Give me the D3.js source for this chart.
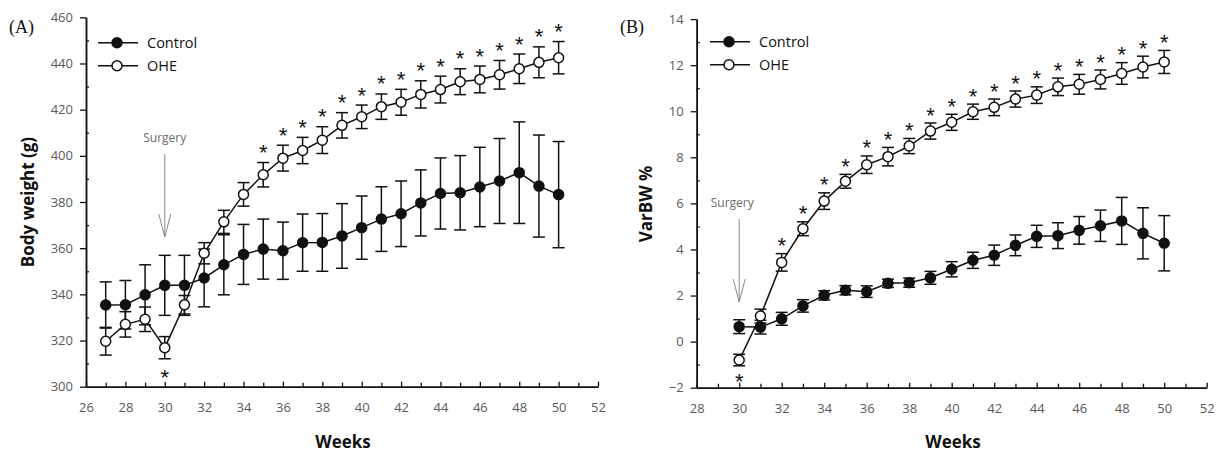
<!DOCTYPE html>
<html>
<head>
<meta charset="utf-8">
<script src="https://cdn.jsdelivr.net/npm/d3@7"></script>
<style>
  html, body { margin: 0; padding: 0; background: #fff; }
  svg { display: block; }
  .tick text { font-family: "Open Sans", sans-serif; font-size: 13px; fill: #595959; }
</style>
</head>
<body>
<svg id="chart" width="1217" height="453"></svg>
<script>
// ---- Panel A: body weight (g) ----
const weeksA = [27, 28, 29, 30, 31, 32, 33, 34, 35, 36, 37, 38, 39, 40, 41, 42, 43, 44, 45, 46, 47, 48, 49, 50];
const controlA = [335.4, 335.5, 339.8, 343.9, 343.9, 347.1, 352.8, 357.3, 359.6, 358.9, 362.4, 362.5, 365.3, 368.9, 372.6, 374.9, 379.6, 383.7, 384.0, 386.5, 389.1, 392.7, 386.9, 383.2];
const controlAErr = [10, 10.5, 13, 13, 13, 12.5, 13, 13, 13, 12.4, 12.4, 12.5, 14, 13.7, 14, 14.2, 14.3, 15.4, 16.1, 17.2, 18.4, 22, 22.1, 23];
const oheA = [319.7, 327.0, 329.2, 316.9, 335.5, 357.8, 371.4, 383.3, 391.8, 399.0, 402.3, 406.8, 413.2, 416.9, 421.3, 423.2, 426.6, 428.7, 432.1, 433.1, 435.1, 437.7, 440.5, 442.5];
const oheAErr = [6, 5.5, 5.3, 4.8, 4, 4.6, 5, 5.1, 5.3, 5.6, 5.7, 5.8, 5.5, 5.1, 5.5, 5.6, 5.9, 5.8, 5.6, 5.8, 6.2, 6.4, 6.7, 7];
const starsAboveA = [35, 36, 37, 38, 39, 40, 41, 42, 43, 44, 45, 46, 47, 48, 49, 50];
const starsBelowA = [30];
const xTicksA = [26, 28, 30, 32, 34, 36, 38, 40, 42, 44, 46, 48, 50, 52];
const yTicksA = [300, 320, 340, 360, 380, 400, 420, 440, 460];

// ---- Panel B: VarBW % ----
const weeksB = [30, 31, 32, 33, 34, 35, 36, 37, 38, 39, 40, 41, 42, 43, 44, 45, 46, 47, 48, 49, 50];
const controlB = [0.65, 0.63, 0.99, 1.55, 2.01, 2.23, 2.17, 2.53, 2.56, 2.77, 3.14, 3.53, 3.75, 4.18, 4.57, 4.60, 4.83, 5.03, 5.24, 4.70, 4.27];
const controlBErr = [0.3, 0.3, 0.28, 0.27, 0.2, 0.2, 0.25, 0.18, 0.2, 0.28, 0.33, 0.35, 0.44, 0.45, 0.48, 0.56, 0.6, 0.68, 1.02, 1.11, 1.2];
const oheB = [-0.80, 1.11, 3.44, 4.90, 6.10, 6.96, 7.68, 8.03, 8.49, 9.14, 9.52, 9.98, 10.17, 10.53, 10.70, 11.06, 11.17, 11.38, 11.64, 11.92, 12.14];
const oheBErr = [0.25, 0.3, 0.38, 0.3, 0.36, 0.3, 0.38, 0.4, 0.33, 0.35, 0.35, 0.33, 0.36, 0.35, 0.36, 0.38, 0.43, 0.41, 0.47, 0.47, 0.5];
const starsAboveB = [32, 33, 34, 35, 36, 37, 38, 39, 40, 41, 42, 43, 44, 45, 46, 47, 48, 49, 50];
const starsBelowB = [30];
const xTicksB = [28, 30, 32, 34, 36, 38, 40, 42, 44, 46, 48, 50, 52];
const yTicksB = [-2, 0, 2, 4, 6, 8, 10, 12, 14];

const seriesNames = ["Control", "OHE"];
const surgeryWeek = 30;

const svg = d3.select("#chart");
const INK = "#111";

function drawPanel(cfg) {
  const g = svg.append("g");
  const x = d3.scaleLinear().domain(cfg.xDomain).range(cfg.xRange);
  const y = d3.scaleLinear().domain(cfg.yDomain).range(cfg.yRange);
  const y0 = cfg.yRange[0];
  const x0 = cfg.xRange[0];

  // x axis: major ticks pointing up, labelled every 2 weeks
  const xAxis = g.append("g").attr("transform", `translate(0,${y0})`)
    .call(d3.axisBottom(x).tickValues(cfg.xTicks).tickSizeInner(-5).tickSizeOuter(0).tickPadding(16).tickFormat(d3.format("d")));
  const minorX = d3.range(cfg.xDomain[0] + 1, cfg.xDomain[1], 2);
  const xMinor = g.append("g").attr("transform", `translate(0,${y0})`)
    .call(d3.axisBottom(x).tickValues(minorX).tickSizeInner(-4).tickSizeOuter(0).tickFormat(""));

  // y axis: major ticks outside, minor ticks inside
  const yAxis = g.append("g").attr("transform", `translate(${x0},0)`)
    .call(d3.axisLeft(y).tickValues(cfg.yTicks).tickSizeInner(6).tickSizeOuter(0).tickPadding(7).tickFormat(d3.format("d")));
  const minorY = cfg.yTicks.slice(0, -1).map((v, i) => (v + cfg.yTicks[i + 1]) / 2);
  const yMinor = g.append("g").attr("transform", `translate(${x0},0)`)
    .call(d3.axisRight(y).tickValues(minorY).tickSizeInner(3).tickSizeOuter(0).tickFormat(""));

  [xAxis, xMinor, yAxis, yMinor].forEach(a => {
    a.selectAll("path.domain").attr("stroke", INK).attr("stroke-width", 1.5);
    a.selectAll(".tick line").attr("stroke", INK).attr("stroke-width", 1.3);
  });

  // axis titles
  g.append("text")
    .attr("transform", `translate(${cfg.yTitleX},${cfg.yTitleY}) rotate(-90)`)
    .attr("text-anchor", "middle")
    .attr("dominant-baseline", "middle")
    .style("font-family", "'Open Sans', sans-serif").style("font-weight", "bold").style("font-size", "17px")
    .attr("fill", INK)
    .text(cfg.yTitle);
  g.append("text")
    .attr("x", cfg.xTitleX).attr("y", 448)
    .attr("text-anchor", "middle")
    .style("font-family", "'Open Sans', sans-serif").style("font-weight", "bold").style("font-size", "17px")
    .attr("fill", INK)
    .text("Weeks");

  // panel letter
  g.append("text")
    .attr("x", cfg.letterX).attr("y", 33)
    .style("font-family", "'Liberation Serif', 'Times New Roman', serif").style("font-size", "18px")
    .attr("fill", INK)
    .text(cfg.letter);

  // surgery marker
  const sx = x(surgeryWeek);
  const arrow = g.append("g").attr("stroke", "#8a8a8a").attr("stroke-width", 1).attr("fill", "none");
  arrow.append("line").attr("x1", sx).attr("x2", sx).attr("y1", cfg.arrowTop).attr("y2", cfg.arrowTip);
  arrow.append("path").attr("d", `M${sx - 6},${cfg.arrowTip - 23} L${sx},${cfg.arrowTip} L${sx + 6},${cfg.arrowTip - 23}`);
  g.append("text")
    .attr("x", sx + cfg.surgeryDx).attr("y", cfg.arrowTop - 12)
    .attr("text-anchor", "middle")
    .style("font-family", "'Open Sans', sans-serif").style("font-size", "12px")
    .attr("fill", "#6b6b6b")
    .text("Surgery");

  const series = [
    { name: seriesNames[0], v: cfg.control, e: cfg.controlErr, fill: INK },
    { name: seriesNames[1], v: cfg.ohe, e: cfg.oheErr, fill: "#fff" }
  ];

  // error bars
  series.forEach(s => {
    const eb = g.append("g").attr("stroke", INK).attr("stroke-width", 1.5);
    cfg.weeks.forEach((w, i) => {
      const cx = x(w), top = y(s.v[i] + s.e[i]), bot = y(s.v[i] - s.e[i]);
      eb.append("line").attr("x1", cx).attr("x2", cx).attr("y1", top).attr("y2", bot);
      eb.append("line").attr("x1", cx - 6).attr("x2", cx + 6).attr("y1", top).attr("y2", top);
      eb.append("line").attr("x1", cx - 6).attr("x2", cx + 6).attr("y1", bot).attr("y2", bot);
    });
  });

  // lines and markers
  const line = d3.line().x(d => x(d[0])).y(d => y(d[1]));
  series.forEach(s => {
    const pts = cfg.weeks.map((w, i) => [w, s.v[i]]);
    g.append("path").attr("d", line(pts)).attr("fill", "none").attr("stroke", INK).attr("stroke-width", 1.5);
  });
  series.forEach(s => {
    g.append("g").selectAll("circle").data(cfg.weeks.map((w, i) => [w, s.v[i]])).join("circle")
      .attr("cx", d => x(d[0])).attr("cy", d => y(d[1])).attr("r", 5)
      .attr("fill", s.fill).attr("stroke", INK).attr("stroke-width", 1.5);
  });

  // significance asterisks (glyph centre sits ~0.57em above the baseline)
  const starSize = 22;
  const oheIdx = w => cfg.weeks.indexOf(w);
  const star = (px, cy) => g.append("text")
    .attr("x", px).attr("y", cy + 0.57 * starSize)
    .attr("text-anchor", "middle")
    .style("font-family", "'Liberation Sans', Arial, sans-serif").style("font-size", starSize + "px")
    .attr("fill", INK).text("*");
  cfg.starsAbove.forEach(w => {
    const i = oheIdx(w);
    star(x(w), y(cfg.ohe[i] + cfg.oheErr[i]) - cfg.starGap);
  });
  cfg.starsBelow.forEach(w => {
    const i = oheIdx(w);
    star(x(w), y(cfg.ohe[i] - cfg.oheErr[i]) + cfg.starGapBelow);
  });

  // legend
  series.forEach((s, k) => {
    const ly = cfg.legendY + k * 23;
    g.append("line").attr("x1", cfg.legendX).attr("x2", cfg.legendX + 40).attr("y1", ly).attr("y2", ly)
      .attr("stroke", INK).attr("stroke-width", 1.5);
    g.append("circle").attr("cx", cfg.legendX + 19).attr("cy", ly).attr("r", 5)
      .attr("fill", s.fill).attr("stroke", INK).attr("stroke-width", 1.5);
    g.append("text").attr("x", cfg.legendX + 49).attr("y", ly)
      .attr("dominant-baseline", "central")
      .style("font-family", "'Open Sans', sans-serif").style("font-size", "14.5px")
      .attr("fill", INK).text(s.name);
  });
}

drawPanel({
  letter: "(A)", letterX: 9,
  xDomain: [26, 52], xRange: [86, 598],
  yDomain: [300, 460], yRange: [386.7, 17.3],
  xTicks: xTicksA, yTicks: yTicksA,
  weeks: weeksA, control: controlA, controlErr: controlAErr, ohe: oheA, oheErr: oheAErr,
  starsAbove: starsAboveA, starsBelow: starsBelowA, starGap: 15, starGapBelow: 14,
  yTitle: "Body weight (g)", yTitleX: 29, yTitleY: 202, xTitleX: 343,
  arrowTop: 154, arrowTip: 237, surgeryDx: 0,
  legendX: 98, legendY: 42.7
});

drawPanel({
  letter: "(B)", letterX: 620,
  xDomain: [28, 52], xRange: [696.7, 1206.7],
  yDomain: [-2, 14], yRange: [387.7, 19.1],
  xTicks: xTicksB, yTicks: yTicksB,
  weeks: weeksB, control: controlB, controlErr: controlBErr, ohe: oheB, oheErr: oheBErr,
  starsAbove: starsAboveB, starsBelow: starsBelowB, starGap: 13, starGapBelow: 11,
  yTitle: "VarBW %", yTitleX: 647, yTitleY: 204, xTitleX: 953,
  arrowTop: 219, arrowTip: 302, surgeryDx: -7,
  legendX: 710, legendY: 41.7
});
</script>
</body>
</html>
